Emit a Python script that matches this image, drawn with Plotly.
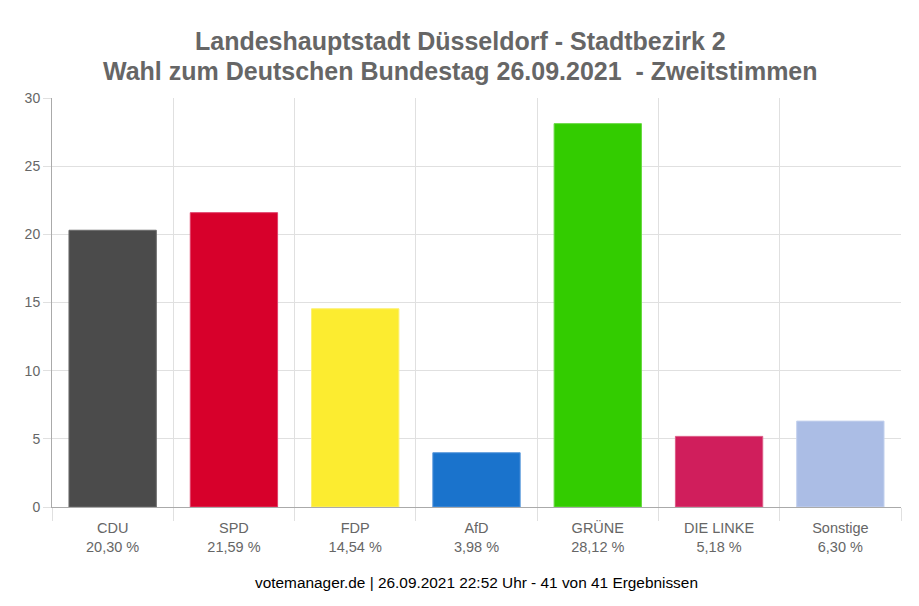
import plotly.graph_objects as go

parties = ["CDU", "SPD", "FDP", "AfD", "GRÜNE", "DIE LINKE", "Sonstige"]
values = [20.30, 21.59, 14.54, 3.98, 28.12, 5.18, 6.30]
value_labels = ["20,30 %", "21,59 %", "14,54 %", "3,98 %", "28,12 %", "5,18 %", "6,30 %"]
colors = ["#4b4b4b", "#d7002b", "#fcec30", "#1a73cc", "#33cc00", "#d01e5c", "#abbde5"]
line_colors = ["#6a6a6a", "#e0406a", "#fdf070", "#5596db", "#66d940", "#dc5a85", "#c4d1ee"]
y_ticks = [0, 5, 10, 15, 20, 25, 30]
title_lines = [
    "Landeshauptstadt Düsseldorf - Stadtbezirk 2",
    "Wahl zum Deutschen Bundestag 26.09.2021\u00a0\u00a0- Zweitstimmen",
]
footer = "votemanager.de | 26.09.2021 22:52 Uhr - 41 von 41 Ergebnissen"

tick_text = [f"{p}<br>{v}" for p, v in zip(parties, value_labels)]

W, H = 911, 598
ML, MR, MT, MB = 44, 18, 90, 99
PW, PH = W - ML - MR, H - MT - MB

fig = go.Figure()
fig.add_trace(go.Bar(
    x=parties,
    y=values,
    marker=dict(color=colors, line=dict(color=line_colors, width=1)),
    width=0.72,
    hoverinfo="x+y",
))

fig.update_layout(
    width=W,
    height=H,
    paper_bgcolor="white",
    plot_bgcolor="white",
    font=dict(family="Liberation Sans, Arial, sans-serif", color="#666666", size=14),
    margin=dict(l=ML, r=MR, t=MT, b=MB, autoexpand=False),
    showlegend=False,
    bargap=0.28,
)

fig.update_xaxes(
    tickmode="array",
    tickvals=parties,
    ticktext=tick_text,
    tickson="boundaries",
    ticks="outside",
    ticklen=13,
    tickcolor="#e0e0e0",
    showgrid=True,
    gridcolor="#e0e0e0",
    gridwidth=1,
    showline=True,
    linecolor="#aaaaaa",
    linewidth=1,
    mirror=False,
    automargin=False,
    ticklabelstandoff=8,
    tickfont=dict(size=14.5, color="#666666"),
    fixedrange=True,
)

fig.update_yaxes(
    range=[0, 30],
    tickvals=y_ticks,
    ticks="outside",
    ticklen=8,
    tickcolor="#e0e0e0",
    showgrid=True,
    gridcolor="#e0e0e0",
    gridwidth=1,
    zeroline=True,
    zerolinecolor="#aaaaaa",
    zerolinewidth=1,
    showline=True,
    linecolor="#aaaaaa",
    linewidth=1,
    automargin=False,
    tickfont=dict(size=14, color="#666666"),
    fixedrange=True,
)

title_x = (452 - ML) / PW
for line, fy in zip(title_lines, [33, 63]):
    fig.add_annotation(
        text=f"<b>{line}</b>",
        xref="paper", yref="paper",
        x=title_x, y=(H - MB - fy) / PH,
        xanchor="center", yanchor="middle",
        showarrow=False,
        font=dict(family="Liberation Sans, Arial, sans-serif", size=25, color="#666666"),
    )

fig.add_annotation(
    text=footer,
    xref="paper", yref="paper",
    x=0.5, y=-75 / PH,
    xanchor="center", yanchor="middle",
    showarrow=False,
    font=dict(family="Liberation Sans, Arial, sans-serif", size=15.4, color="#000000"),
)

fig.write_html("out.html")
